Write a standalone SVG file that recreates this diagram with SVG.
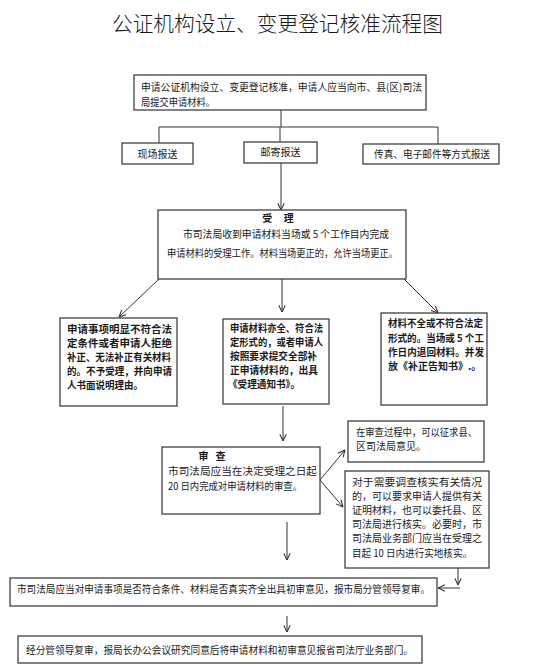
<svg xmlns="http://www.w3.org/2000/svg" width="553" height="671" viewBox="0 0 553 671">
<defs>
<marker id="ah" viewBox="0 0 10 10" refX="9.5" refY="5" markerWidth="8" markerHeight="8" orient="auto" markerUnits="userSpaceOnUse">
<path d="M1,1 L9.5,5 L1,9" fill="none" stroke="#333" stroke-width="1.3"/>
</marker>
</defs>
<style>
text{font-family:"Noto Sans CJK SC","Noto Sans",sans-serif;fill:#1a1a1a;font-size:10px}
.t{font-size:21px;font-weight:300}
.b{font-weight:bold}
.box{fill:#fff;stroke:#404040;stroke-width:1.3}
.c{text-anchor:middle}
.ln{fill:none;stroke:#333;stroke-width:1}
.ar{fill:none;stroke:#333;stroke-width:1;marker-end:url(#ah)}
</style>
<rect width="553" height="671" fill="#fff"/>
<text class="t" x="112" y="31" textLength="331" lengthAdjust="spacingAndGlyphs">公证机构设立、变更登记核准流程图</text>

<g id="connectors">
<path class="ln" d="M281,110 V127 M159,127 H438 M159,127 V143 M280,127 V142 M438,127 V144"/>
<path class="ar" d="M281,163 V210"/>
<path class="ar" d="M159,279 L119,317"/>
<path class="ar" d="M282,279 V312"/>
<path class="ar" d="M404,279 L438,313"/>
<path class="ar" d="M283,406 V441"/>
<path class="ar" d="M320,480 L345,450"/>
<path class="ar" d="M320,480 L343,507"/>
<path class="ar" d="M287,522 V560"/>
<path class="ar" d="M458,568 V585"/>
<path class="ar" d="M460,588 H438"/>
<path class="ar" d="M287,616 V632"/>
</g>

<g id="n_apply">
<rect class="box" x="134" y="75" width="292" height="35"/>
<text x="141" y="91" textLength="281" lengthAdjust="spacingAndGlyphs">申请公证机构设立、变更登记核准，申请人应当向市、县(区)司法</text>
<text x="141" y="106" textLength="74" lengthAdjust="spacingAndGlyphs">局提交申请材料。</text>
</g>

<g id="n_onsite">
<rect class="box" x="122" y="143" width="71" height="21"/>
<text class="c" x="157.5" y="157.5">现场报送</text>
</g>

<g id="n_mail">
<rect class="box" x="244" y="142" width="73" height="21"/>
<text class="c" x="280.5" y="156">邮寄报送</text>
</g>

<g id="n_fax">
<rect class="box" x="363" y="144" width="136" height="20"/>
<text x="374" y="158" textLength="116" lengthAdjust="spacingAndGlyphs">传真、电子邮件等方式报送</text>
</g>

<g id="n_accept">
<rect class="box" x="158" y="210" width="248" height="69"/>
<text class="c b" x="278" y="222" xml:space="preserve">受     理</text>
<text x="183" y="238" textLength="206" lengthAdjust="spacingAndGlyphs">市司法局收到申请材料当场或 5 个工作目内完成</text>
<text x="167" y="257" textLength="231" lengthAdjust="spacingAndGlyphs">申请材料的受理工作。材料当场更正的，允许当场更正。</text>
</g>

<g id="n_reject">
<rect class="box" x="60" y="318" width="117" height="88"/>
<text class="b" x="67" y="333" textLength="105" lengthAdjust="spacingAndGlyphs">申请事项明显不符合法</text>
<text class="b" x="67" y="347" textLength="105" lengthAdjust="spacingAndGlyphs">定条件或者申请人拒绝</text>
<text class="b" x="67" y="361" textLength="104" lengthAdjust="spacingAndGlyphs">补正、无法补正有关材料</text>
<text class="b" x="67" y="375" textLength="105" lengthAdjust="spacingAndGlyphs">的。不予受理，并向申请</text>
<text class="b" x="67" y="389" textLength="76" lengthAdjust="spacingAndGlyphs">人书面说明理由。</text>
</g>

<g id="n_notice">
<rect class="box" x="223" y="319" width="106" height="85"/>
<text class="b" x="230" y="332" textLength="93" lengthAdjust="spacingAndGlyphs">申请材料亦全、符合法</text>
<text class="b" x="230" y="346" textLength="93" lengthAdjust="spacingAndGlyphs">定形式的，或者申请人</text>
<text class="b" x="230" y="360" textLength="87" lengthAdjust="spacingAndGlyphs">按照要求提交全部补</text>
<text class="b" x="230" y="374" textLength="88" lengthAdjust="spacingAndGlyphs">正申请材料的，出具</text>
<text class="b" x="228" y="388" textLength="72" lengthAdjust="spacingAndGlyphs">《受理通知书》。</text>
</g>

<g id="n_correct">
<rect class="box" x="381" y="313" width="106" height="92"/>
<text class="b" x="388" y="327" textLength="95" lengthAdjust="spacingAndGlyphs">材料不全或不符合法定</text>
<text class="b" x="388" y="342" textLength="96" lengthAdjust="spacingAndGlyphs">形式的。当场或 5 个工</text>
<text class="b" x="388" y="356" textLength="96" lengthAdjust="spacingAndGlyphs">作日内退回材料。并发</text>
<text class="b" x="388" y="370">放《补正告知书》.。</text>
</g>

<g id="n_review">
<rect class="box" x="162" y="447" width="158" height="67"/>
<text class="c b" x="212" y="460" xml:space="preserve">审   查</text>
<text x="168" y="475" textLength="149" lengthAdjust="spacingAndGlyphs">市司法局应当在决定受理之日起</text>
<text x="168" y="490" textLength="134" lengthAdjust="spacingAndGlyphs">20 日内完成对申请材料的审查。</text>
</g>

<g id="n_consult">
<rect class="box" x="348" y="421" width="136" height="41"/>
<text x="356" y="436" textLength="121" lengthAdjust="spacingAndGlyphs">在审查过程中，可以征求县、</text>
<text x="356" y="450">区司法局意见。</text>
</g>

<g id="n_verify">
<rect class="box" x="345" y="471" width="144" height="97"/>
<text x="352" y="486" textLength="130" lengthAdjust="spacingAndGlyphs">对于需要调查核实有关情况</text>
<text x="352" y="500" textLength="130" lengthAdjust="spacingAndGlyphs">的，可以要求申请人提供有关</text>
<text x="352" y="514" textLength="130" lengthAdjust="spacingAndGlyphs">证明材料，也可以委托县、区</text>
<text x="352" y="528" textLength="130" lengthAdjust="spacingAndGlyphs">司法局进行核实。必要时，市</text>
<text x="352" y="542" textLength="130" lengthAdjust="spacingAndGlyphs">司法局业务部门应当在受理之</text>
<text x="352" y="557" textLength="120" lengthAdjust="spacingAndGlyphs">目起 10 日内进行实地核实。</text>
</g>

<g id="n_initial">
<rect class="box" x="10" y="578" width="427" height="28"/>
<text x="17" y="593" textLength="413" lengthAdjust="spacingAndGlyphs">市司法局应当对申请事项是否符合条件、材料是否真实齐全出具初审意见，报市局分管领导复审。</text>
</g>

<g id="n_final">
<rect class="box" x="18" y="636" width="404" height="27"/>
<text x="26" y="654" textLength="387" lengthAdjust="spacingAndGlyphs">经分管领导复审，报局长办公会议研究同意后将申请材料和初审意见报省司法厅业务部门。</text>
</g>
</svg>
